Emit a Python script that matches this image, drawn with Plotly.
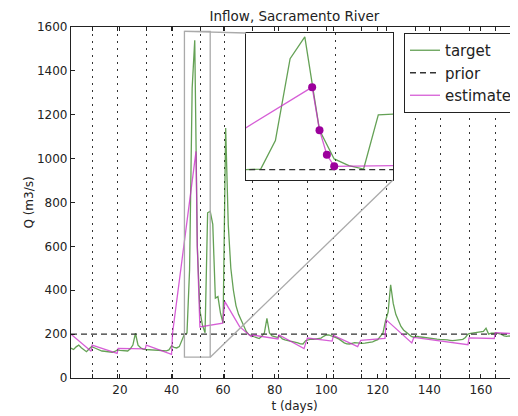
import plotly.graph_objects as go

# ---------------- data ----------------
target_t = list(range(1, 176))
target_q = [136, 130, 142, 150, 138, 128, 120, 132, 143, 138,
            132, 127, 123, 122, 120, 118, 117, 121, 128, 126,
            124, 122, 123, 133, 150, 204, 150, 138, 132, 130,
            129, 128, 128, 127, 126, 125, 125, 124, 128, 146,
            140, 137, 143, 170, 200, 205, 493, 1321, 1540, 600,
            308, 240, 206, 753, 760, 700, 364, 371, 295, 250,
            1140, 700, 500, 400, 330, 290, 262, 238, 212, 198,
            192, 188, 184, 180, 190, 205, 272, 205, 192, 188,
            185, 190, 178, 174, 170, 168, 166, 164, 160, 156,
            155, 170, 175, 177, 176, 178, 180, 182, 190, 196,
            196, 192, 189, 183, 177, 168, 160, 156, 155, 158,
            161, 160, 158, 158, 159, 160, 161, 165, 170, 175,
            190, 204, 260, 300, 425, 340, 290, 265, 235, 219,
            210, 200, 190, 186, 190, 188, 186, 184, 182, 180,
            179, 178, 177, 176, 176, 175, 174, 172, 170, 172,
            174, 174, 176, 185, 200, 203, 205, 207, 206, 210,
            212, 227, 200, 204, 206, 205, 202, 199, 192, 190,
            192, 188, 194, 192, 190]

prior_t = [1, 175]
prior_q = [200, 200]

estimate_t = [1, 8.8, 9.2, 18.9, 19.3, 29.8, 30.2, 40.0, 40.4, 49.5,
              50.0, 50.5, 51.0, 59.8, 60.7, 66.4, 70.9, 71.4, 81.3, 81.7,
              91.4, 92.7, 102.3, 102.8, 112.2, 113.4, 122.8, 123.3, 133.2, 134.0,
              155.0, 155.4, 165.2, 165.6, 175]
estimate_q = [200, 122, 150, 112, 135, 133, 150, 108, 205, 1033,
              598, 351, 233, 250, 348, 234, 189, 196, 178, 196,
              134, 182, 168, 194, 143, 172, 180, 265, 160, 185,
              152, 183, 180, 207, 200]

obs_times = [9.2, 19.2, 30.1, 40.3, 51.1, 60.7, 71.4, 81.6, 92.8,
             102.8, 113.5, 123.4, 134.6, 144.4, 155.5, 165.5]

x_ticks = [20, 40, 60, 80, 100, 120, 140, 160]
y_ticks = [0, 200, 400, 600, 800, 1000, 1200, 1400, 1600]

# ---------------- layout constants ----------------
# the page body adds an 8px margin, so the figure is 8px smaller on each axis
W, H = 510, 408
ML, MR, MT, MB = 63, 0, 19, 38
PW, PH = W - ML - MR, H - MT - MB
XR = [1, 174.4]
YR = [0, 1600]
ZX = [45, 55]        # zoom window (days)
ZY = [95, 1580]      # zoom window (m3/s)
INS_X = [(238 - ML) / PW, (385 - ML) / PW]
INS_Y = [(MT + PH - 172) / PH, (MT + PH - 25) / PH]

GREEN = "rgba(40,125,20,0.72)"
MAG = "rgba(200,40,200,0.75)"
FONT = "DejaVu Sans"
INK = "#222222"

fig = go.Figure()

for ax, leg in (("", True), ("2", False)):
    xa, ya = "x" + ax, "y" + ax
    fig.add_trace(go.Scatter(x=target_t, y=target_q, mode="lines", name="target",
                             line=dict(color=GREEN, width=1.3),
                             xaxis=xa, yaxis=ya, showlegend=leg))
    fig.add_trace(go.Scatter(x=prior_t, y=prior_q, mode="lines", name="prior",
                             line=dict(color="#333333", width=1.4, dash="6px,4px"),
                             xaxis=xa, yaxis=ya, showlegend=leg))
    fig.add_trace(go.Scatter(x=estimate_t, y=estimate_q,
                             mode="lines" if ax == "" else "lines+markers",
                             name="estimate",
                             line=dict(color=MAG, width=1.3),
                             marker=dict(color="#9c009c", size=8),
                             xaxis=xa, yaxis=ya, showlegend=leg))

axis_common = dict(showline=True, linecolor=INK, linewidth=1.2,
                   zeroline=False, showgrid=False,
                   tickfont=dict(family=FONT, size=12, color=INK))

fig.update_layout(
    width=W, height=H,
    margin=dict(l=ML, r=MR, t=MT, b=MB),
    plot_bgcolor="white", paper_bgcolor="white",
    font=dict(family=FONT, size=12, color=INK),
    title=dict(text="Inflow, Sacramento River", x=(ML + W - MR) / 2 / W,
               xanchor="center", xref="container",
               y=1 - 8.5 / H, yanchor="middle", yref="container",
               pad=dict(t=0, b=0, l=0, r=0),
               font=dict(family=FONT, size=13.5, color=INK)),
    xaxis=dict(domain=[0, 1], range=XR, tickmode="array", tickvals=x_ticks,
               ticks="inside", ticklen=4, tickcolor=INK, mirror="ticks",
               title=dict(text="t (days)", font=dict(family=FONT, size=12), standoff=6),
               minor=dict(tickmode="array", tickvals=obs_times, ticks="inside",
                          ticklen=4, tickcolor=INK, showgrid=True,
                          gridcolor="#333333", gridwidth=1.2, griddash="2px,5px"),
               **axis_common),
    yaxis=dict(domain=[0, 1], range=YR, tickmode="array", tickvals=y_ticks,
               ticks="inside", ticklen=4, tickcolor=INK,
               title=dict(text="Q (m3/s)", font=dict(family=FONT, size=12), standoff=0),
               **axis_common),
    xaxis2=dict(domain=INS_X, range=ZX, anchor="y2", showticklabels=False,
                ticks="", mirror=True,
                minor=dict(tickmode="array", tickvals=obs_times, ticks="",
                           showgrid=True, gridcolor="#333333", gridwidth=1.2,
                           griddash="2px,5px"),
                **axis_common),
    yaxis2=dict(domain=INS_Y, range=ZY, anchor="x2", showticklabels=False,
                ticks="", mirror=True, **axis_common),
    legend=dict(x=1, xanchor="right", y=1 - 6 / PH, yanchor="top",
                bgcolor="white", bordercolor=INK, borderwidth=1,
                font=dict(family=FONT, size=15, color=INK),
                tracegroupgap=0, itemwidth=30),
)

# zoom rectangle on main axes
fig.add_shape(type="rect", xref="x", yref="y", x0=ZX[0], x1=ZX[1], y0=ZY[0], y1=ZY[1],
              line=dict(color="#aaaaaa", width=1.3), layer="above")


def px(d):
    return (d - XR[0]) / (XR[1] - XR[0])


def py(q):
    return (q - YR[0]) / (YR[1] - YR[0])


# connector lines (mark_inset style)
fig.add_shape(type="line", xref="paper", yref="paper",
              x0=px(ZX[0]), y0=py(ZY[1]), x1=INS_X[0], y1=INS_Y[1],
              line=dict(color="#aaaaaa", width=1.3), layer="above")
fig.add_shape(type="line", xref="paper", yref="paper",
              x0=px(ZX[1]), y0=py(ZY[0]), x1=INS_X[1], y1=INS_Y[0],
              line=dict(color="#aaaaaa", width=1.3), layer="above")

fig.write_html("out.html")
